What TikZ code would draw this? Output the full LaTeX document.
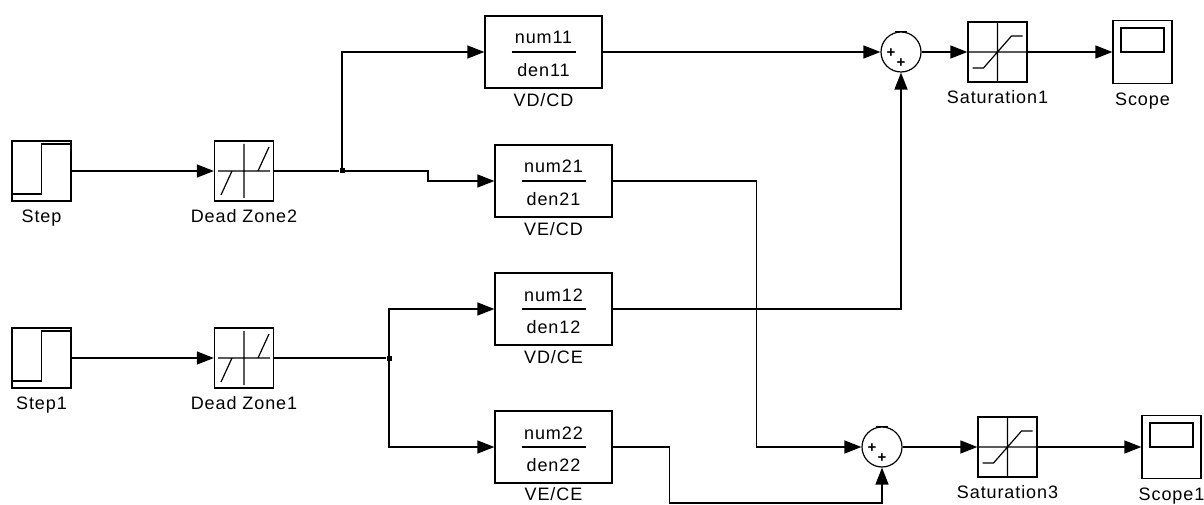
\documentclass[tikz,border=0pt]{standalone}
\usepackage{fontspec}
\setmainfont{Liberation Sans}[LetterSpace=5]
\usetikzlibrary{positioning,arrows.meta}

% numerator over denominator, centred on the block
\newcommand{\tfbox}[2]{%
  \makebox[0pt]{\raisebox{8pt}[0pt][0pt]{#1}}%
  \makebox[0pt]{\raisebox{-24.5pt}[0pt][0pt]{#2}}}
% the two plus signs of a sum block
\newcommand{\sumpp}{%
  \rlap{\kern-10pt\makebox[0pt]{\raisebox{-5.5pt}[0pt][0pt]{\fontsize{15}{15}\selectfont\bfseries+}}}%
  \makebox[0pt]{\raisebox{-15.5pt}[0pt][0pt]{\fontsize{15}{15}\selectfont\bfseries+}}}

\tikzset{
  stepicon/.pic  = {\draw[line width=1.2pt] (-29.5,23) -- (0,23) -- (0,-27) -- (29.5,-27);},
  dzicon/.pic    = {\draw[line width=1.2pt] (0,-27) -- (0,27) (-26,0) -- (26,0)
                      (-23,24) -- (-12,0) (14,0) -- (25,-24);},
  saticon/.pic   = {\draw[line width=1.2pt] (0,-29) -- (0,29) (-29,0) -- (29,0)
                      (-25,16) -- (-14,16) -- (14,-16) -- (25,-16);},
  scopeicon/.pic = {\draw[line width=1.2pt] (-21.5,-24) rectangle (21.5,0);}
}

\begin{document}
\begin{tikzpicture}[
    x = 1pt, y = -1pt,
    every node/.style = {font=\fontsize{18}{20}\selectfont},
    block/.style      = {draw, line width=1.3pt, minimum width=59pt, minimum height=60pt, inner sep=0pt},
    tfblock/.style    = {draw, line width=1.3pt, minimum width=117pt, minimum height=72pt, inner sep=0pt,
                         path picture={\draw[line width=1.3pt] ([xshift=-32pt]path picture bounding box.center)
                                       -- ([xshift=32pt]path picture bounding box.center);}},
    sumblock/.style   = {draw, circle, line width=1.2pt, minimum size=40pt, inner sep=0pt},
    lbl/.style        = {inner sep=0pt},
    dot/.style        = {fill, inner sep=0pt, minimum size=5pt},
    wire/.style       = {line width=1.4pt},
    sig/.style        = {wire, -{Triangle[length=17pt, width=13pt]}}
  ]
\useasboundingbox (0,0) rectangle (1204,505);

% upper chain
\node[block] (step) at (41.5,171) {};
\node[block] (dzone2) at (244,171) {};
\node[dot] (b1) at (342,171) {};
\node[tfblock] (tf11) at (543.5,52) {\tfbox{num11}{den11}};
\node[tfblock] (tf21) at (553.5,181) {\tfbox{num21}{den21}};
\node[sumblock] (sum1) at (901,52) {\sumpp};
\node[block] (sat1) at (997.5,52) {};
\node[block, minimum height=63pt] (scope) at (1142.5,52) {};

% lower chain
\node[block] (step1) at (41.5,358) {};
\node[block] (dzone1) at (244,358) {};
\node[dot] (b2) at (389,358) {};
\node[tfblock] (tf12) at (553.5,309) {\tfbox{num12}{den12}};
\node[tfblock] (tf22) at (553.5,447) {\tfbox{num22}{den22}};
\node[sumblock] (sum2) at (882,447) {\sumpp};
\node[block] (sat3) at (1007.5,447) {};
\node[block, minimum height=63pt] (scope1) at (1171.5,447) {};

% icons
\pic at (step.center) {stepicon};
\pic at (step1.center) {stepicon};
\pic at (dzone2.center) {dzicon};
\pic at (dzone1.center) {dzicon};
\pic at (sat1.center) {saticon};
\pic at (sat3.center) {saticon};
\pic at (scope.center) {scopeicon};
\pic at (scope1.center) {scopeicon};
\draw[line width=1.4pt] ([xshift=-6pt]sum1.north) -- ([xshift=6pt]sum1.north);
\draw[line width=1.4pt] ([xshift=-6pt]sum2.north) -- ([xshift=6pt]sum2.north);

% block names
\node[lbl, below=8pt of step] (steplbl) {Step};
\node[lbl, below=8pt of dzone2] (dzone2lbl) {Dead Zone2};
\node[lbl, below=5pt of tf11] (tf11lbl) {VD/CD};
\node[lbl, below=5pt of tf21] (tf21lbl) {VE/CD};
\node[lbl, below=8pt of sat1] (sat1lbl) {Saturation1};
\node[lbl, below=9pt of scope] (scopelbl) {Scope};
\node[lbl, below=8pt of step1] (step1lbl) {Step1};
\node[lbl, below=8pt of dzone1] (dzone1lbl) {Dead Zone1};
\node[lbl, below=5pt of tf12] (tf12lbl) {VD/CE};
\node[lbl, below=4pt of tf22] (tf22lbl) {VE/CE};
\node[lbl, below=8pt of sat3] (sat3lbl) {Saturation3};
\node[lbl, below=9pt of scope1] (scope1lbl) {Scope1};

% signals
\draw[sig] (step) -- (dzone2);
\draw[wire] (dzone2) -- (b1);
\draw[sig] (b1.center) |- (tf11.west);
\draw[sig] (b1.center) -- ++(86,0) -- ++(0,10) -- (tf21.west);
\draw[sig] (tf11) -- (sum1);
\draw[sig] (sum1) -- (sat1);
\draw[sig] (sat1) -- (scope);
\draw[sig] (tf12.east) -| (sum1.south);
\draw[sig] (tf21.east) -- ++(144,0) |- (sum2.west);

\draw[sig] (step1) -- (dzone1);
\draw[wire] (dzone1) -- (b2);
\draw[sig] (b2.center) |- (tf12.west);
\draw[sig] (b2.center) |- (tf22.west);
\draw[sig] (tf22.east) -- ++(57,0) -- ++(0,56) -| (sum2.south);
\draw[sig] (sum2) -- (sat3);
\draw[sig] (sat3) -- (scope1);
\end{tikzpicture}
\end{document}
